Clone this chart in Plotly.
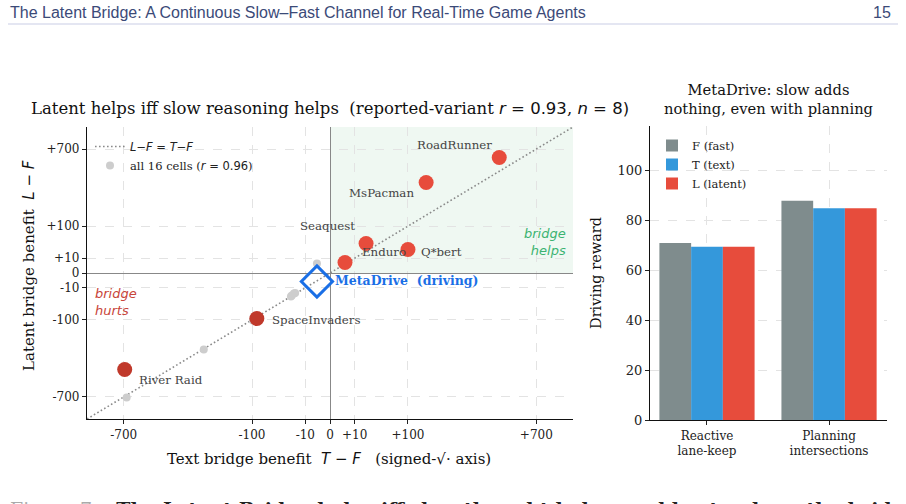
import numpy as np
import plotly.graph_objects as go

# ---------------- data ----------------
GAMES = ["RoadRunner", "MsPacman", "Seaquest", "Enduro", "Q*bert", "SpaceInvaders", "River Raid"]
TEXT_BENEFIT = [471, 152, 21.4, 3.7, 100, -88, -693]      # T - F
LATENT_BENEFIT = [608, 373, 39.6, 5.0, 25, -94, -424]     # L - F
METADRIVE = {"text": -2.8, "latent": -3.3}
OTHER_TEXT = [-2.8, -21.4, -25.1, -97.8, -262, -680, -20.0, -95.0, -24.0]
OTHER_LATENT = [4.1, -19.1, -25.1, -102.8, -266, -706, -18.0, -100.0, -23.0]
TICKS = [-700, -100, -10, 0, 10, 100, 700]
TICK_LABELS = ["-700", "-100", "-10", "0", "+10", "+100", "+700"]
AXIS_LIM = 971

BAR_CATS = ["Reactive<br>lane-keep", "Planning<br>intersections"]
BAR_F = [71, 88]
BAR_T = [69.5, 85]
BAR_L = [69.5, 85]

def ss(v):
    v = np.asarray(v, dtype=float)
    return np.sign(v) * np.sqrt(np.abs(v))

SERIF = "DejaVu Serif"
SANS_M = "DejaVu Sans"
RED = "#e74c3c"
DRED = "#c0392b"
BLUE = "#1a6fe6"
W, H = 906.0, 504.0

def px(xp):
    return xp / W

def py(yp):
    return 1 - yp / H

def mi(s):
    return "<span style='font-family:DejaVu Sans'>" + s + "</span>"

fig = go.Figure()
lim = float(ss(AXIS_LIM))

# diagonal reference line L-F = T-F
fig.add_trace(go.Scatter(x=ss([-AXIS_LIM, AXIS_LIM]), y=ss([-AXIS_LIM, AXIS_LIM]), mode="lines",
                         line=dict(color="#8a8a8a", width=1.6, dash="1.6px,2.4px"),
                         name=mi("<i>L</i>\u2212<i>F</i> = <i>T</i>\u2212<i>F</i>"),
                         legend="legend", xaxis="x", yaxis="y"))
# all 16 cells
all_t = list(TEXT_BENEFIT) + OTHER_TEXT
all_l = list(LATENT_BENEFIT) + OTHER_LATENT
fig.add_trace(go.Scatter(x=ss(all_t), y=ss(all_l), mode="markers",
                         marker=dict(color="#cdcdcd", size=8),
                         name="all 16 cells (" + mi("<i>r</i> = 0.96") + ")",
                         legend="legend", xaxis="x", yaxis="y"))
# reported points
cols = [RED if (t > 0) else DRED for t in TEXT_BENEFIT]
fig.add_trace(go.Scatter(x=ss(TEXT_BENEFIT), y=ss(LATENT_BENEFIT), mode="markers",
                         marker=dict(color=cols, size=15, line=dict(width=0)),
                         showlegend=False, xaxis="x", yaxis="y"))
# MetaDrive
fig.add_trace(go.Scatter(x=ss([METADRIVE["text"]]), y=ss([METADRIVE["latent"]]), mode="markers",
                         marker=dict(symbol="diamond-open", size=24, color=BLUE, line=dict(width=3, color=BLUE)),
                         showlegend=False, xaxis="x", yaxis="y"))

LABEL_SHIFT = {
    "RoadRunner": (-45, 12),
    "MsPacman": (-45, -10),
    "Seaquest": (-39, 18),
    "Enduro": (39, 11),
    "Q*bert": (34, -2),
    "SpaceInvaders": (59, -2),
    "River Raid": (46, -11),
}
ann = []
for g, t, l in zip(GAMES, TEXT_BENEFIT, LATENT_BENEFIT):
    dx, dy = LABEL_SHIFT[g]
    ann.append(dict(x=float(ss(t)), y=float(ss(l)), xref="x", yref="y", text=g, showarrow=False,
                    xanchor="center", yanchor="middle", xshift=dx, yshift=dy,
                    font=dict(family=SERIF, size=11.8, color="#444444")))
ann.append(dict(x=float(ss(METADRIVE["text"])), y=float(ss(METADRIVE["latent"])), xref="x", yref="y",
                text="<b>MetaDrive  (driving)</b>", showarrow=False, xanchor="left", yanchor="middle",
                xshift=16, yshift=1, font=dict(family=SERIF, size=12.5, color=BLUE)))
ann.append(dict(x=0.99, y=0.605, xref="x domain", yref="y domain", text="<i>bridge<br>helps</i>",
                showarrow=False, xanchor="right", yanchor="middle", align="right",
                font=dict(family=SANS_M, size=13, color="#3cb371")))
ann.append(dict(x=0.012, y=0.40, xref="x domain", yref="y domain", text="<i>bridge<br>hurts</i>",
                showarrow=False, xanchor="left", yanchor="middle", align="left",
                font=dict(family=SANS_M, size=13, color="#c8453a")))

def pa(x, y, text, size, color="#111111", family=SERIF, xanchor="center", yanchor="middle", angle=0):
    ann.append(dict(x=px(x), y=py(y), xref="paper", yref="paper", showarrow=False, text=text,
                    xanchor=xanchor, yanchor=yanchor, textangle=angle,
                    font=dict(family=family, size=size, color=color)))

pa(330, 108, "Latent helps iff slow reasoning helps  (reported-variant " + mi("<i>r</i> = 0.93") + ", "
   + mi("<i>n</i> = 8)"), 16.5)
pa(329, 459, "Text bridge benefit  " + mi("<i>T</i> \u2212 <i>F</i>") + "   (signed-\u221a\u00b7 axis)", 15)
pa(29, 266, "Latent bridge benefit  " + mi("<i>L</i> \u2212 <i>F</i>"), 15, angle=-90)
pa(768, 99, "MetaDrive: slow adds<br>nothing, even with planning", 14.7)
pa(596, 273, "Driving reward", 14.5, angle=-90)
pa(8, 12, "The Latent Bridge: A Continuous Slow\u2013Fast Channel for Real-Time Game Agents", 16,
   color="#3b4a78", family="Liberation Sans", xanchor="left")
pa(893, 12, "15", 16, color="#3b4a78", family="Liberation Sans", xanchor="right")
pa(8, 496, "<span style='color:#aaaaaa'>Figure 7.</span>   <b>The Latent Bridge helps iff slow thought helps, and hurts where the bridge hurts.</b>",
   19, color="#222222", xanchor="left", yanchor="top")

# bars
fig.add_trace(go.Bar(x=[0, 1], y=BAR_F, name="F (fast)", marker=dict(color="#7f8c8d", line=dict(width=0)),
                     offset=-0.39, width=0.26, xaxis="x2", yaxis="y2", legend="legend2"))
fig.add_trace(go.Bar(x=[0, 1], y=BAR_T, name="T (text)", marker=dict(color="#3498db", line=dict(width=0)),
                     offset=-0.13, width=0.26, xaxis="x2", yaxis="y2", legend="legend2"))
fig.add_trace(go.Bar(x=[0, 1], y=BAR_L, name="L (latent)", marker=dict(color="#e74c3c", line=dict(width=0)),
                     offset=0.13, width=0.26, xaxis="x2", yaxis="y2", legend="legend2"))

tickfont = dict(family=SERIF, size=12, color="#222222")
grid = dict(showgrid=True, gridcolor="#e3e3e3", griddash="dash", gridwidth=1)

fig.update_layout(
    width=906, height=504, margin=dict(l=0, r=0, t=0, b=0, autoexpand=False),
    paper_bgcolor="white", plot_bgcolor="white",
    barmode="overlay",
    xaxis=dict(domain=[px(87), px(573)], range=[-lim, lim], tickvals=list(ss(TICKS)), ticktext=TICK_LABELS,
               tickfont=tickfont, ticks="outside", ticklen=4, tickcolor="#222", showline=True,
               linecolor="#111", linewidth=1.3, zeroline=True, zerolinecolor="#888888", zerolinewidth=1.3,
               anchor="y", automargin=False, **grid),
    yaxis=dict(domain=[py(419), py(127)], range=[-lim, lim], tickvals=list(ss(TICKS)), ticktext=TICK_LABELS,
               tickfont=tickfont, ticks="outside", ticklen=4, tickcolor="#222", showline=True,
               linecolor="#111", linewidth=1.3, zeroline=True, zerolinecolor="#888888", zerolinewidth=1.3,
               anchor="x", automargin=False, **grid),
    xaxis2=dict(domain=[px(650), px(887)], range=[-0.467, 1.475], tickvals=[0, 1], ticktext=BAR_CATS,
                tickfont=dict(family=SERIF, size=12, color="#222"), ticks="outside", ticklen=4, tickcolor="#222",
                showline=True, linecolor="#111", linewidth=1.3, zeroline=False, anchor="y2",
                automargin=False, **grid),
    yaxis2=dict(domain=[py(420), py(126)], range=[0, 118], tickvals=[0, 20, 40, 60, 80, 100],
                tickfont=dict(family=SERIF, size=13, color="#222"), ticks="outside", ticklen=4, tickcolor="#222",
                showline=True, linecolor="#111", linewidth=1.3, zeroline=False, anchor="x2",
                automargin=False, **grid),
    legend=dict(x=px(90), y=py(132), xanchor="left", yanchor="top", bgcolor="rgba(255,255,255,0)",
                font=dict(family=SERIF, size=11.5, color="#222"), tracegroupgap=0, itemwidth=30),
    legend2=dict(x=px(652), y=py(131), xanchor="left", yanchor="top", bgcolor="rgba(255,255,255,0)",
                 font=dict(family=SERIF, size=11.5, color="#222"), itemwidth=30),
    annotations=ann,
    shapes=[
        dict(type="rect", xref="x", yref="y", x0=0, x1=lim, y0=0, y1=lim, fillcolor="#eff8f2",
             line=dict(width=0), layer="below"),
        dict(type="line", xref="paper", yref="paper", x0=px(8), x1=px(898), y0=py(24), y1=py(24),
             line=dict(color="#c9cde6", width=1.2)),
    ],
)

fig.write_html("out.html")
